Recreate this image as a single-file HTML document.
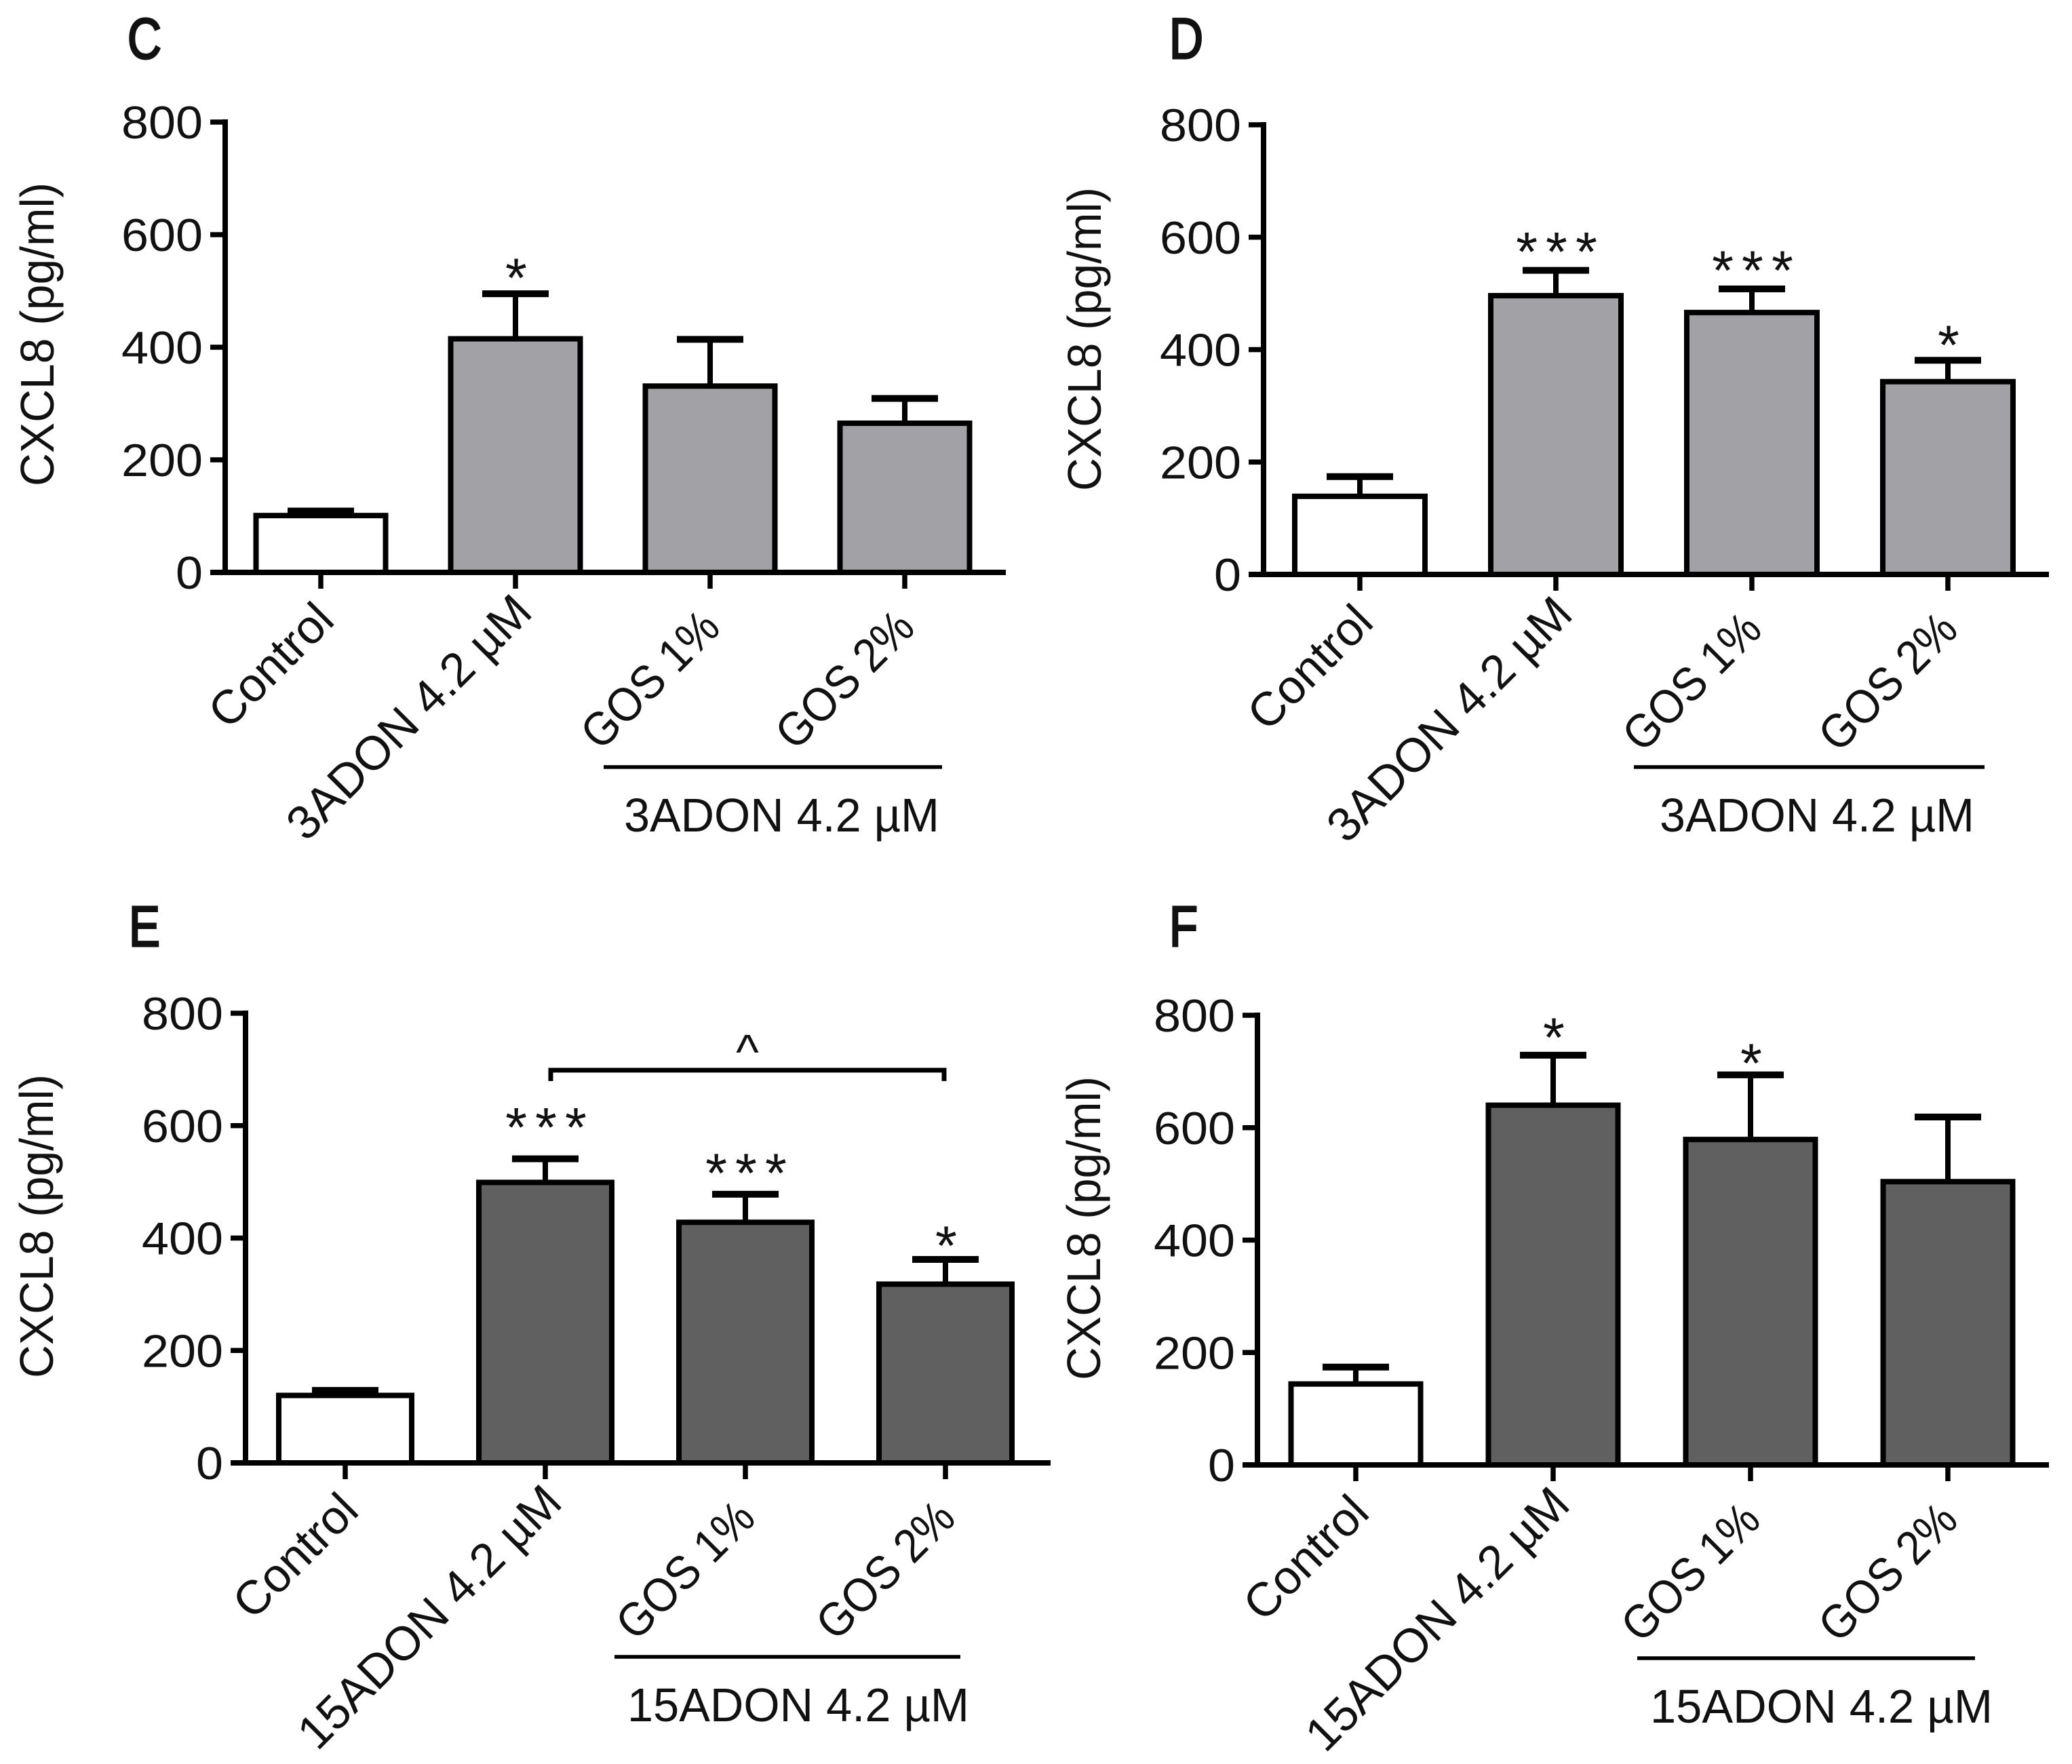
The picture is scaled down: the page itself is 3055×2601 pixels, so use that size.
<!DOCTYPE html>
<html lang="en">
<head>
<meta charset="utf-8">
<title>CXCL8 bar charts</title>
<style>
html,body{margin:0;padding:0;background:#fff;width:3055px;height:2601px;overflow:hidden}
svg{display:block}
text{font-family:"Liberation Sans",sans-serif;fill:#111}
</style>
</head>
<body>
<svg id="figure" width="3055" height="2601" viewBox="0 0 3055 2601" xmlns="http://www.w3.org/2000/svg"></svg>
<script>
const tickLabels = [0, 200, 400, 600, 800];
const categoriesC = ["Control", "3ADON 4.2 µM", "GOS 1%", "GOS 2%"];
const categoriesD = ["Control", "3ADON 4.2 µM", "GOS 1%", "GOS 2%"];
const categoriesE = ["Control", "15ADON 4.2 µM", "GOS 1%", "GOS 2%"];
const categoriesF = ["Control", "15ADON 4.2 µM", "GOS 1%", "GOS 2%"];
const meansC = [101, 415, 331, 265];
const errorsC = [8, 80, 83, 44];
const starsC = ["", "*", "", ""];
const meansD = [139, 496, 466, 343];
const errorsD = [35, 45, 42, 38];
const starsD = ["", "***", "***", "*"];
const meansE = [120, 499, 428, 318];
const errorsE = [9, 42, 50, 44];
const starsE = ["", "***", "***", "*"];
const meansF = [144, 640, 579, 504];
const errorsF = [30, 89, 115, 115];
const starsF = ["", "*", "*", ""];

const svg = document.getElementById('figure');
const NS = 'http://www.w3.org/2000/svg';

function line(parent, x1, y1, x2, y2, w) {
  const el = document.createElementNS(NS, 'line');
  el.setAttribute('x1', x1);
  el.setAttribute('y1', y1);
  el.setAttribute('x2', x2);
  el.setAttribute('y2', y2);
  el.setAttribute('stroke', '#000');
  el.setAttribute('stroke-width', w);
  parent.appendChild(el);
  return el;
}
function label(parent, str, x, y, size, anchor, len) {
  const el = document.createElementNS(NS, 'text');
  el.setAttribute('x', x);
  el.setAttribute('y', y);
  el.setAttribute('font-size', size);
  el.setAttribute('text-anchor', anchor);
  if (len) {
    el.setAttribute('textLength', len);
    el.setAttribute('lengthAdjust', 'spacingAndGlyphs');
  }
  el.textContent = str;
  parent.appendChild(el);
  return el;
}

function drawPanel(p) {
  const g = document.createElementNS(NS, 'g');
  
  
  svg.appendChild(g);
  const y = v => p.y0 - (v / 800) * (p.y0 - p.y800);
  const x = i => p.c0 + i * p.step;
  const lblDx = [23, 28, 18, 18];
  const lblDy = [74, 62, 85, 85];
  const lblLen = [0, 0, 254, 254];

  const letter = label(g, p.id, p.letterX, p.letterY, 84, 'start', p.letterW);
  letter.setAttribute('stroke', '#111');
  letter.setAttribute('stroke-width', 3);
  
  

  const title = label(g, 'CXCL8 (pg/ml)', 0, 0, 70, 'middle', 448);
  title.setAttribute('transform', 'translate(' + p.titleX + ',' + p.titleY + ') rotate(-90)');
  
  

  p.means.forEach((m, i) => {
    const bar = document.createElementNS(NS, 'rect');
    bar.setAttribute('x', x(i) - p.barW / 2);
    bar.setAttribute('y', y(m));
    bar.setAttribute('width', p.barW);
    bar.setAttribute('height', y(0) - y(m));
    bar.setAttribute('fill', i === 0 ? '#ffffff' : p.fill);
    bar.setAttribute('stroke', '#000');
    bar.setAttribute('stroke-width', 8);
    
    
    g.appendChild(bar);

    const top = y(m + p.errors[i]);
    const stem = line(g, x(i), y(m), x(i), top, 8);
    
    
    const cap = line(g, x(i) - 49, top, x(i) + 49, top, 10);
    
    

    if (p.stars[i]) {
      const s = p.stars[i];
      const star = label(g, s, x(i) + 1 + (s.length > 1 ? 6 : 0), top - p.starGap[i] + 39, 82, 'middle');
      star.setAttribute('letter-spacing', s.length > 1 ? 12 : 0);
      
      
    }

    const tick = line(g, x(i), p.y0, x(i), p.y0 + 24, 7.5);
    
    

    const tl = label(g, p.categories[i], 0, 0, 70, 'end', lblLen[i]);
    tl.setAttribute('transform', 'translate(' + (x(i) + lblDx[i]) + ',' + (p.y0 + lblDy[i]) + ') rotate(-45)');
    
    
  });

  const yAxis = line(g, p.axisX, p.y800 - 4, p.axisX, p.y0 + 4, 8);
  
  
  const xAxis = line(g, p.axisX - 22, p.y0, p.xEnd, p.y0, 8);
  
  

  tickLabels.forEach(t => {
    const tk = line(g, p.axisX - 22, y(t), p.axisX, y(t), 7.5);
    
    
    const tl = label(g, String(t), p.axisX - 33, y(t) + 24, 68, 'end', String(t).length * 40);
    
    
  });

  const under = line(g, p.ulX1, p.ulY, p.ulX2, p.ulY, 5.5);
  
  
  const ut = label(g, p.categories[1], p.utX, p.ulY + 95, 70, 'start', p.utW);
  
  

  if (p.bracket) {
    const bx1 = x(1) + 8, bx2 = x(3) - 2, by = p.bracket;
    const path = document.createElementNS(NS, 'path');
    path.setAttribute('d', 'M' + bx1 + ' ' + (by + 16) + 'V' + by + 'H' + bx2 + 'V' + (by + 16));
    path.setAttribute('fill', 'none');
    path.setAttribute('stroke', '#000');
    path.setAttribute('stroke-width', 7);
    
    
    g.appendChild(path);
    const caret = label(g, '^', (bx1 + bx2) / 2, by - 2, 72, 'middle');
    
    
  }
}

drawPanel({id:'C', categories:categoriesC, means:meansC, errors:errorsC, stars:starsC, fill:'#a2a1a6',
  axisX:332, y0:844, y800:180, c0:473, step:287, barW:191, xEnd:1483, letterX:188, letterY:86, letterW:50, titleX:79, titleY:493,
  ulX1:890, ulX2:1389, ulY:1131, utX:920, utW:465, starGap:[0,34,0,0]});
drawPanel({id:'D', categories:categoriesD, means:meansD, errors:errorsD, stars:starsD, fill:'#a2a1a6',
  axisX:1863, y0:847, y800:184, c0:2005, step:289, barW:192, xEnd:3021, letterX:1724, letterY:86, letterW:50, titleX:1623, titleY:500,
  ulX1:2409, ulX2:2926, ulY:1131, utX:2447, utW:464, starGap:[0,38,38,33]});
drawPanel({id:'E', categories:categoriesE, means:meansE, errors:errorsE, stars:starsE, fill:'#606060',
  axisX:362, y0:2157, y800:1494, c0:509, step:295, barW:196, xEnd:1549, letterX:190, letterY:1395, letterW:46, titleX:78, titleY:1808,
  ulX1:906, ulX2:1416, ulY:2443, utX:925, utW:504, starGap:[0,57,42,31],
  bracket:1578});
drawPanel({id:'F', categories:categoriesF, means:meansF, errors:errorsF, stars:starsF, fill:'#606060',
  axisX:1854, y0:2160, y800:1497, c0:1999, step:291, barW:191, xEnd:3021, letterX:1724, letterY:1395, letterW:42, titleX:1622, titleY:1811,
  ulX1:2414, ulX2:2912, ulY:2445, utX:2433, utW:505, starGap:[0,37,28,0]});
</script>
</body>
</html>
